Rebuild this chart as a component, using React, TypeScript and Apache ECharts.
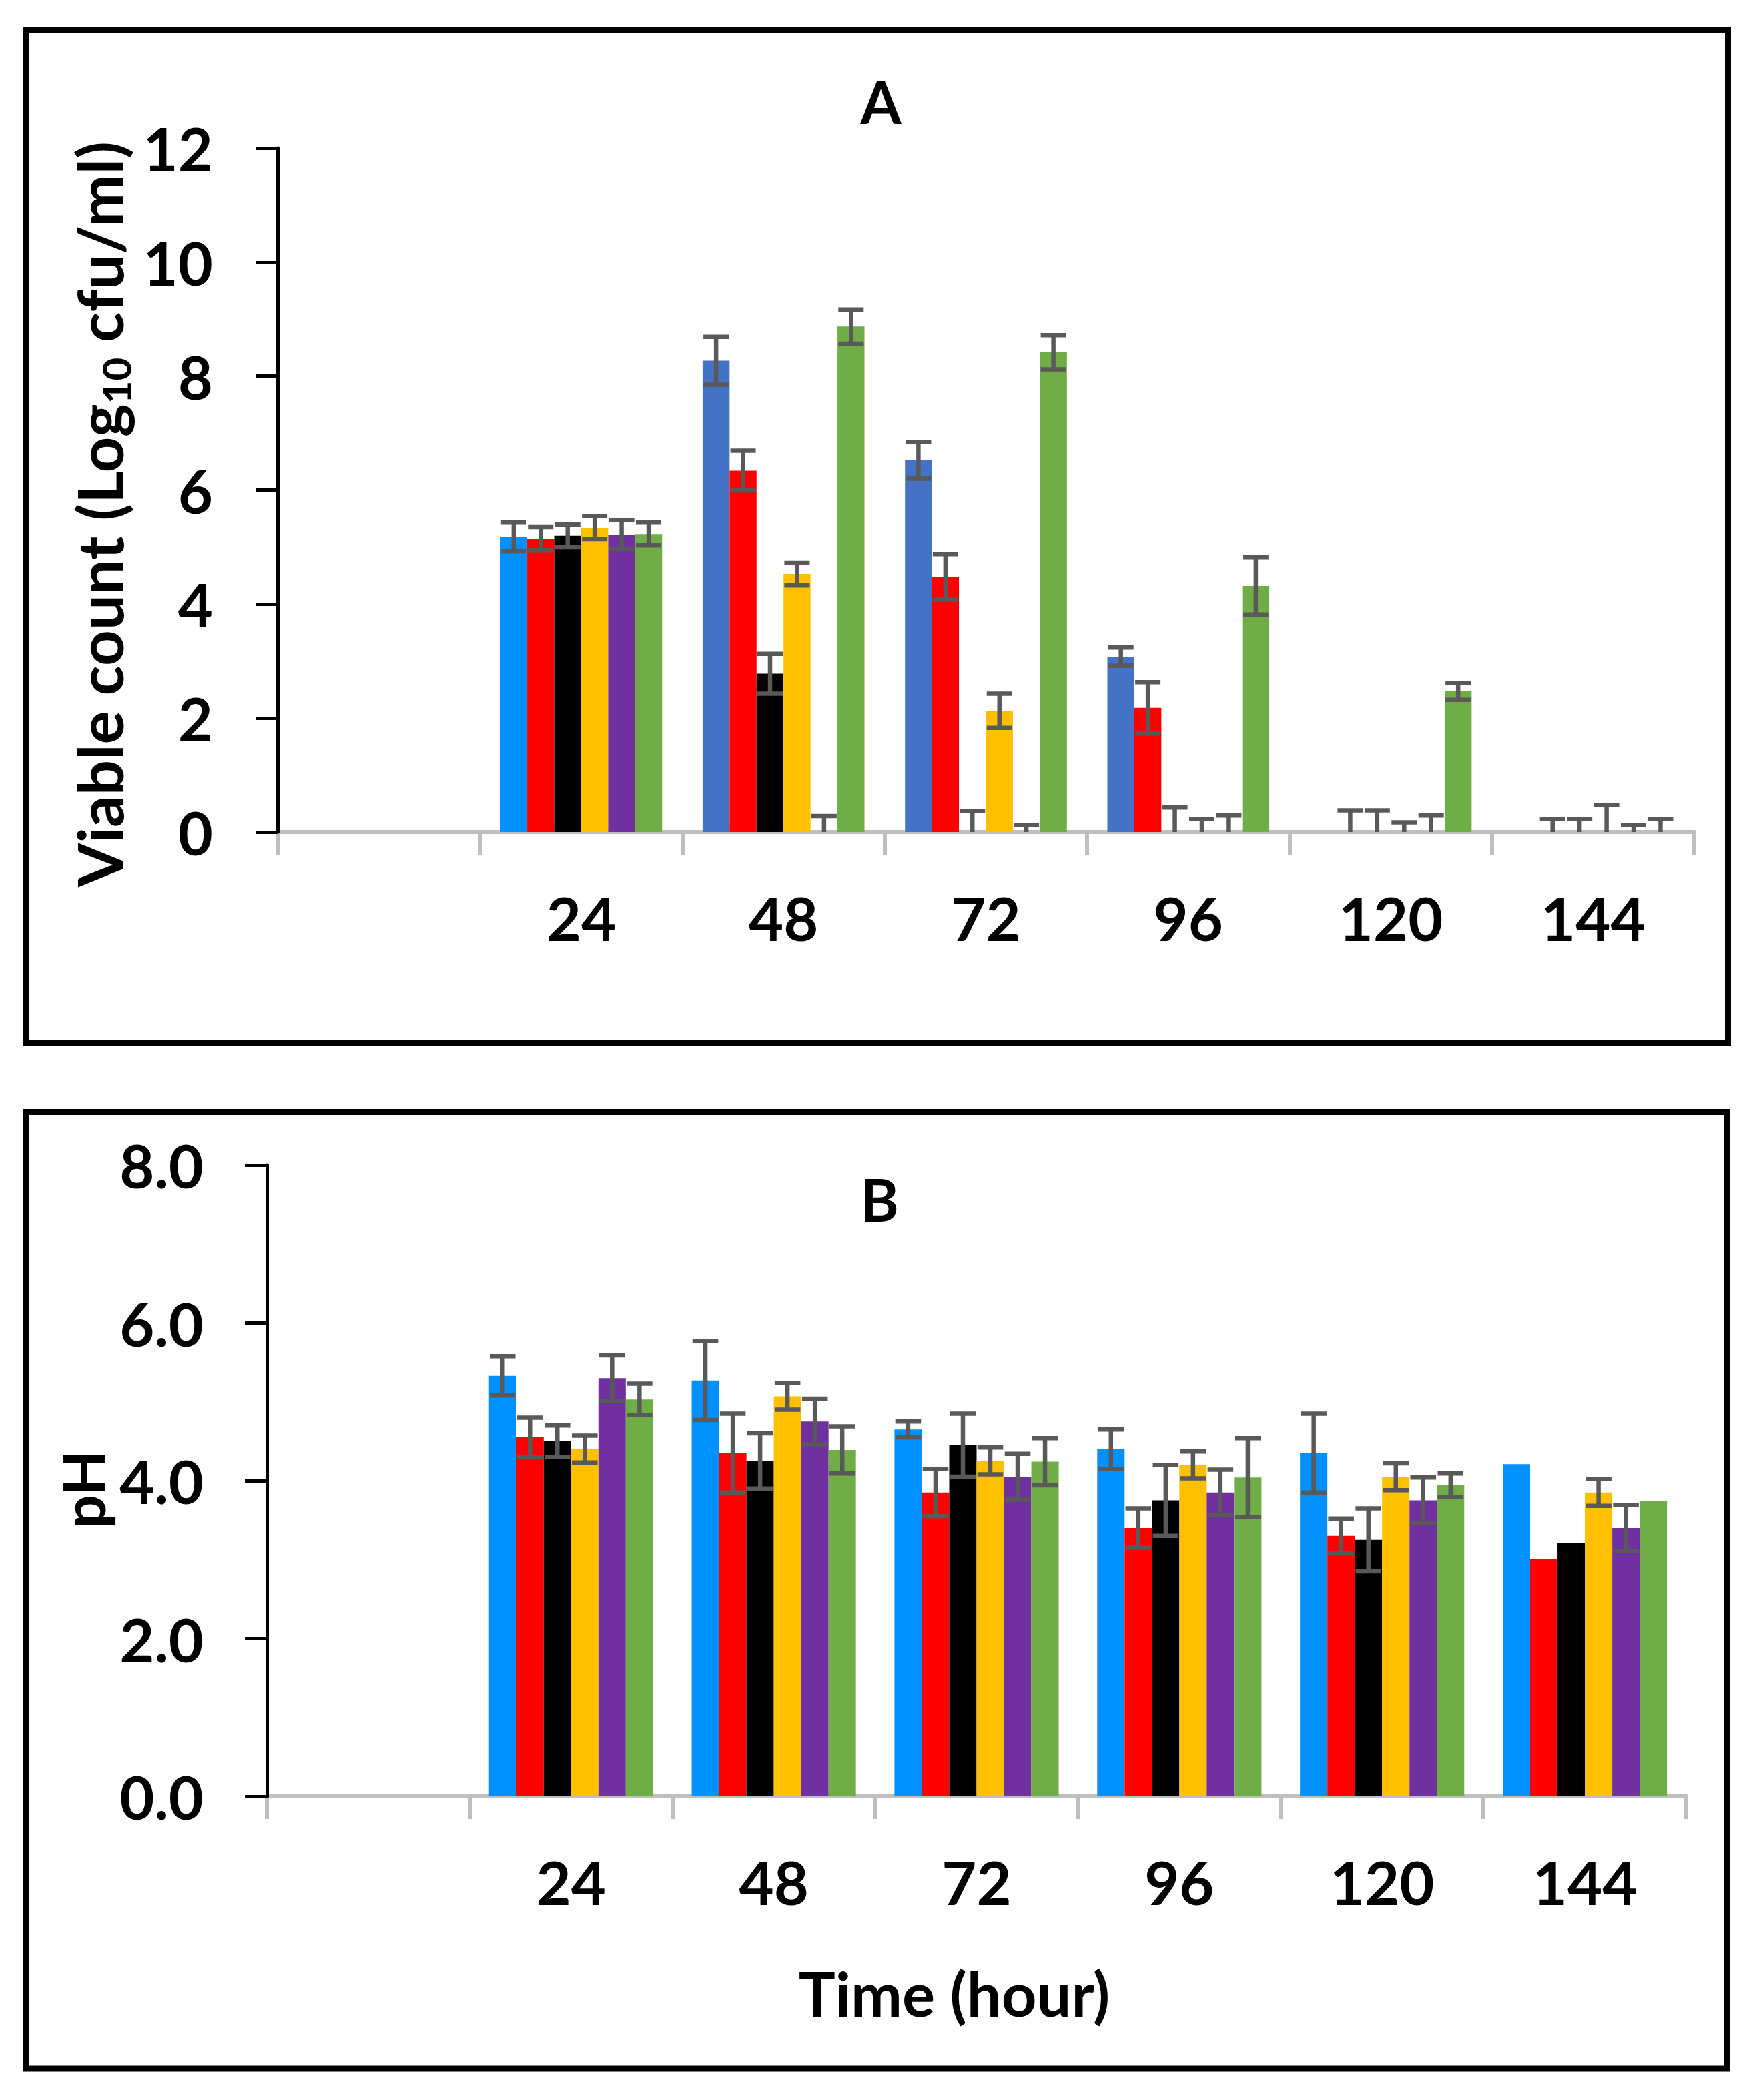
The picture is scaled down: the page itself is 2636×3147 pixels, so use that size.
import React, { useEffect, useRef } from 'react';
import * as echarts from 'echarts';

// ---------- data ----------
const hours = ['', '24', '48', '72', '96', '120', '144'];
const seriesNames = ['Treatment 1', 'Treatment 2', 'Treatment 3', 'Treatment 4', 'Treatment 5', 'Treatment 6'];

// Panel A: viable count (Log10 cfu/ml)
const viable1 = [null, 5.18, 8.27, 6.52, 3.08, 0, 0];
const viable1Err = [null, 0.25, 0.42, 0.32, 0.16, null, null];
const viable2 = [null, 5.15, 6.34, 4.48, 2.18, 0, 0];
const viable2Err = [null, 0.2, 0.35, 0.4, 0.45, 0.38, 0.23];
const viable3 = [null, 5.2, 2.78, 0, 0, 0, 0];
const viable3Err = [null, 0.2, 0.35, 0.37, 0.43, 0.38, 0.23];
const viable4 = [null, 5.34, 4.53, 2.13, 0, 0, 0];
const viable4Err = [null, 0.2, 0.2, 0.3, 0.23, 0.17, 0.47];
const viable5 = [null, 5.22, 0, 0, 0, 0, 0];
const viable5Err = [null, 0.25, 0.28, 0.12, 0.29, 0.29, 0.12];
const viable6 = [null, 5.23, 8.87, 8.42, 4.32, 2.47, 0];
const viable6Err = [null, 0.2, 0.3, 0.3, 0.5, 0.15, 0.23];

// Panel B: pH
const ph1 = [null, 5.33, 5.27, 4.65, 4.4, 4.35, 4.21];
const ph1Err = [null, 0.25, 0.5, 0.1, 0.25, 0.5, null];
const ph2 = [null, 4.55, 4.35, 3.85, 3.4, 3.3, 3.01];
const ph2Err = [null, 0.25, 0.5, 0.3, 0.25, 0.22, null];
const ph3 = [null, 4.5, 4.25, 4.45, 3.75, 3.25, 3.21];
const ph3Err = [null, 0.2, 0.35, 0.4, 0.45, 0.4, null];
const ph4 = [null, 4.4, 5.07, 4.25, 4.2, 4.05, 3.85];
const ph4Err = [null, 0.17, 0.17, 0.17, 0.17, 0.17, 0.17];
const ph5 = [null, 5.3, 4.75, 4.05, 3.85, 3.75, 3.4];
const ph5Err = [null, 0.29, 0.29, 0.29, 0.29, 0.29, 0.29];
const ph6 = [null, 5.03, 4.39, 4.24, 4.04, 3.94, 3.74];
const ph6Err = [null, 0.2, 0.3, 0.3, 0.5, 0.15, null];

const viableTicks = { min: 0, max: 12, interval: 2 };
const phTicks = { min: 0, max: 8, interval: 2 };

// ---------- styles ----------
const COLORS = ['#0091FF', '#FF0000', '#000000', '#FFC000', '#7030A0', '#70AD47'];
const EXCEL_BLUE = '#4472C4';
const ERR_COLOR = '#595959';
const FONT = 'Lato';
const GAP_A = 0.2;
const GAP_B = 0.19;

function barSeries(values: (number | null)[], idx: number, grid: number, gap: number, colorFn?: (c: number) => string) {
  return {
    type: 'bar',
    name: seriesNames[idx],
    xAxisIndex: grid,
    yAxisIndex: grid,
    barGap: '0%',
    barCategoryGap: `${gap * 100}%`,
    itemStyle: { color: COLORS[idx] },
    data: values.map((v, c) => (colorFn && v != null ? { value: v, itemStyle: { color: colorFn(c) } } : v)),
    z: 2,
  };
}

function errSeries(values: (number | null)[], errs: (number | null)[], idx: number, grid: number, gap: number) {
  const data: number[][] = [];
  values.forEach((v, c) => {
    const e = errs[c];
    if (v != null && e != null) data.push([c, v, e]);
  });
  return {
    type: 'custom',
    name: seriesNames[idx] + ' error',
    xAxisIndex: grid,
    yAxisIndex: grid,
    z: 10,
    silent: true,
    encode: { x: 0, y: 1 },
    data,
    renderItem: (_params: any, api: any) => {
      const c = api.value(0);
      const v = api.value(1);
      const e = api.value(2);
      const band = api.size([1, 0])[0];
      const groupW = band * (1 - gap);
      const bw = groupW / 6;
      const base = api.coord([c, 0]);
      const cx = base[0] - groupW / 2 + (idx + 0.5) * bw;
      const yTop = api.coord([c, v + e])[1];
      const low = v - e;
      const yLow = api.coord([c, Math.max(0, low)])[1];
      const hw = bw * 0.47;
      const st = { stroke: ERR_COLOR, lineWidth: 6.5 };
      const children: any[] = [
        { type: 'line', shape: { x1: cx, y1: yTop, x2: cx, y2: yLow }, style: st },
        { type: 'line', shape: { x1: cx - hw, y1: yTop, x2: cx + hw, y2: yTop }, style: st },
      ];
      if (low >= 0) {
        children.push({ type: 'line', shape: { x1: cx - hw, y1: yLow, x2: cx + hw, y2: yLow }, style: st });
      }
      return { type: 'group', children };
    },
  };
}

const labelStyle = { fontSize: 90, fontWeight: 'bold', fontFamily: FONT, color: '#000' };

function xAxis(grid: number) {
  return {
    type: 'category',
    gridIndex: grid,
    data: hours,
    boundaryGap: true,
    axisLine: { show: true, lineStyle: { color: '#BFBFBF', width: 6 } },
    axisTick: { show: true, interval: 0, length: 34, lineStyle: { color: '#BFBFBF', width: 6 } },
    axisLabel: { ...labelStyle, interval: 0, margin: 83 },
    splitLine: { show: false },
    z: 1,
  };
}

function yAxis(grid: number, ticks: any, extra: any) {
  return {
    type: 'value',
    gridIndex: grid,
    ...ticks,
    axisLine: { show: true, lineStyle: { color: '#000', width: 5 } },
    axisTick: { show: true, length: 33, lineStyle: { color: '#000', width: 5 } },
    splitLine: { show: false },
    z: 3,
    ...extra,
  };
}

function buildOption() {
  const viable = [viable1, viable2, viable3, viable4, viable5, viable6];
  const viableErr = [viable1Err, viable2Err, viable3Err, viable4Err, viable5Err, viable6Err];
  const ph = [ph1, ph2, ph3, ph4, ph5, ph6];
  const phErr = [ph1Err, ph2Err, ph3Err, ph4Err, ph5Err, ph6Err];

  const series: any[] = [];
  viable.forEach((vals, i) => {
    series.push(barSeries(vals, i, 0, GAP_A, i === 0 ? (c) => (c === 1 ? COLORS[0] : EXCEL_BLUE) : undefined));
  });
  ph.forEach((vals, i) => series.push(barSeries(vals, i, 1, GAP_B)));
  viable.forEach((vals, i) => series.push(errSeries(vals, viableErr[i], i, 0, GAP_A)));
  ph.forEach((vals, i) => series.push(errSeries(vals, phErr[i], i, 1, GAP_B)));

  return {
    animation: false,
    backgroundColor: '#fff',
    grid: [
      { left: 416, top: 222, width: 2123, height: 1025, containLabel: false },
      { left: 400, top: 1746, width: 2127, height: 946, containLabel: false },
    ],
    xAxis: [xAxis(0), xAxis(1)],
    yAxis: [
      yAxis(0, viableTicks, {
        axisLabel: { ...labelStyle, margin: 97 },
        name: '{m|Viable count (Log}{s|10}{m| cfu/ml)}',
        nameLocation: 'middle',
        nameRotate: 90,
        nameGap: 186,
        nameTextStyle: {
          padding: [0, 72, 0, 0],
          rich: {
            m: { fontSize: 94, fontWeight: 'bold', fontFamily: FONT, color: '#000', lineHeight: 110 },
            s: { fontSize: 60, fontWeight: 'bold', fontFamily: FONT, color: '#000', lineHeight: 40, verticalAlign: 'bottom' },
          },
        },
      }),
      yAxis(1, phTicks, {
        axisLabel: { ...labelStyle, margin: 95, formatter: (v: number) => v.toFixed(1) },
        name: 'pH',
        nameLocation: 'middle',
        nameRotate: 90,
        nameGap: 222,
        nameTextStyle: { fontSize: 88, fontWeight: 'bold', fontFamily: FONT, color: '#000', padding: [0, 26, 0, 0] },
      }),
    ],
    graphic: [
      { type: 'rect', silent: true, shape: { x: 39, y: 44.5, width: 2550.5, height: 1518 }, style: { fill: 'none', stroke: '#000', lineWidth: 9 } },
      { type: 'rect', silent: true, shape: { x: 39, y: 1666.5, width: 2548.5, height: 1433.5 }, style: { fill: 'none', stroke: '#000', lineWidth: 9 } },
      { type: 'text', silent: true, x: 1320, y: 152, style: { text: 'A', font: `bold 88px ${FONT}`, fill: '#000', textAlign: 'center', textVerticalAlign: 'middle', align: 'center', verticalAlign: 'middle' } },
      { type: 'text', silent: true, x: 1318, y: 1797, style: { text: 'B', font: `bold 88px ${FONT}`, fill: '#000', textAlign: 'center', textVerticalAlign: 'middle', align: 'center', verticalAlign: 'middle' } },
      { type: 'text', silent: true, x: 1430, y: 2986, style: { text: 'Time (hour)', font: `bold 92px ${FONT}`, fill: '#000', textAlign: 'center', textVerticalAlign: 'middle', align: 'center', verticalAlign: 'middle' } },
    ],
    series,
  };
}

export default function App() {
  const ref = useRef<HTMLDivElement>(null);
  useEffect(() => {
    if (!ref.current) return;
    const chart = echarts.init(ref.current, undefined, { renderer: 'svg' });
    chart.setOption(buildOption() as any);
    return () => chart.dispose();
  }, []);
  return (
    <div
      ref={ref}
      style={{ position: 'fixed', left: 0, top: 0, width: 2636, height: 3147, background: '#fff' }}
    />
  );
}
